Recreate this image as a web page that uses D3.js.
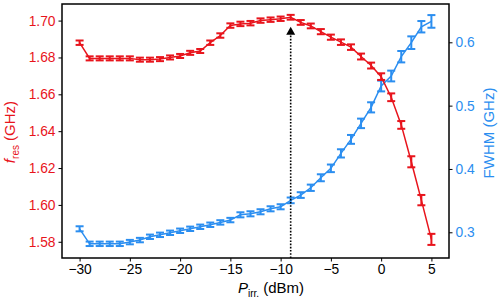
<!DOCTYPE html>
<html>
<head>
<meta charset="utf-8">
<script src="https://cdn.jsdelivr.net/npm/d3@7"></script>
<style>
  html, body { margin: 0; padding: 0; background: #fff; }
  svg { display: block; font-family: "Liberation Sans", Arial, sans-serif; }
</style>
</head>
<body>
<div id="chart"></div>
<script>
const power = d3.range(-30, 6); // -30 .. 5 dBm, 1 dB steps
const fRes = [1.6880, 1.6795, 1.6795, 1.6795, 1.6795, 1.6795, 1.6788, 1.6788, 1.6791, 1.6800, 1.6808,
  1.6825, 1.6835, 1.6880, 1.6919, 1.6973, 1.6982, 1.6986, 1.7000, 1.7005, 1.7010, 1.7018, 1.6990,
  1.6971, 1.6940, 1.6910, 1.6883, 1.6856, 1.6805, 1.6756, 1.6696, 1.6584, 1.6434, 1.6234, 1.6026, 1.5813];
const fResErr = [0.0012, 0.0011, 0.0011, 0.0011, 0.0011, 0.0011, 0.0011, 0.0011, 0.0011, 0.0011, 0.0011,
  0.0011, 0.0011, 0.0012, 0.0012, 0.0012, 0.0012, 0.0012, 0.0012, 0.0012, 0.0012, 0.0013, 0.0013,
  0.0013, 0.0014, 0.0014, 0.0015, 0.0015, 0.0016, 0.0016, 0.0018, 0.0021, 0.0021, 0.0030, 0.0028, 0.0030];
const fwhm = [0.3055, 0.2818, 0.2818, 0.2818, 0.2818, 0.2845, 0.2877, 0.2929, 0.2960, 0.2992, 0.3024,
  0.3055, 0.3087, 0.3119, 0.3156, 0.3193, 0.3276, 0.3292, 0.3324, 0.3371, 0.3403, 0.3504, 0.3588,
  0.3703, 0.3861, 0.4010, 0.4246, 0.4467, 0.4720, 0.4973, 0.5310, 0.5468, 0.5773, 0.5994, 0.6246, 0.6330];
const fwhmErr = [0.0040, 0.0035, 0.0035, 0.0035, 0.0035, 0.0035, 0.0035, 0.0035, 0.0035, 0.0035, 0.0035,
  0.0035, 0.0035, 0.0035, 0.0035, 0.0035, 0.0040, 0.0040, 0.0040, 0.0040, 0.0040, 0.0045, 0.0045,
  0.0050, 0.0055, 0.0060, 0.0065, 0.0070, 0.0075, 0.0080, 0.0085, 0.0085, 0.0090, 0.0100, 0.0090, 0.0100];
const xTicks = [-30, -25, -20, -15, -10, -5, 0, 5];
const fTicks = [1.58, 1.60, 1.62, 1.64, 1.66, 1.68, 1.70];
const wTicks = [0.3, 0.4, 0.5, 0.6];
const arrowX = -9;
const arrowTip = 1.6966;

const red = '#e8141c';
const blue = '#2b8ef0';
const W = 498, H = 302;
const m = { t: 4, r: 49, b: 44, l: 62 };
const innerW = W - m.l - m.r;
const innerH = H - m.t - m.b;

const svg = d3.select('#chart').append('svg').attr('width', W).attr('height', H);
const g = svg.append('g').attr('transform', `translate(${m.l},${m.t})`);

const x = d3.scaleLinear().domain([-31.75, 6.75]).range([0, innerW]);
const yL = d3.scaleLinear().domain([1.5712, 1.709]).range([innerH, 0]);
const yR = d3.scaleLinear().domain([0.2594, 0.6605]).range([innerH, 0]);

function styleAxis(sel, color) {
  sel.select('.domain').remove();
  sel.selectAll('.tick line').attr('stroke', '#000').attr('stroke-width', 1);
  sel.selectAll('.tick text').attr('fill', color).attr('font-size', 13.8)
    .attr('font-family', '"Liberation Sans", Arial, sans-serif');
}

g.append('g').attr('transform', `translate(0,${innerH})`)
  .call(d3.axisBottom(x).tickValues(xTicks).tickSize(3.5).tickPadding(3).tickFormat(d => d < 0 ? '\u2212' + Math.abs(d) : d))
  .call(s => styleAxis(s, '#000'));
g.append('g')
  .call(d3.axisLeft(yL).tickValues(fTicks).tickSize(3.5).tickPadding(3).tickFormat(d3.format('.2f')))
  .call(s => styleAxis(s, red));
g.append('g').attr('transform', `translate(${innerW},0)`)
  .call(d3.axisRight(yR).tickValues(wTicks).tickSize(3.5).tickPadding(3).tickFormat(d3.format('.1f')))
  .call(s => styleAxis(s, blue));

function series(vals, errs, y, color) {
  const pts = power.map((p, i) => ({ p, v: vals[i], e: errs[i] }));
  const s = g.append('g');
  s.append('path').datum(pts)
    .attr('fill', 'none').attr('stroke', color).attr('stroke-width', 1.5)
    .attr('d', d3.line().x(d => x(d.p)).y(d => y(d.v)));
  const eb = s.selectAll('g.eb').data(pts).enter().append('g')
    .attr('stroke', color).attr('stroke-width', 2);
  eb.append('line')
    .attr('x1', d => x(d.p)).attr('x2', d => x(d.p))
    .attr('y1', d => y(d.v - d.e)).attr('y2', d => y(d.v + d.e));
  eb.append('line')
    .attr('x1', d => x(d.p) - 4).attr('x2', d => x(d.p) + 4)
    .attr('y1', d => y(d.v - d.e)).attr('y2', d => y(d.v - d.e));
  eb.append('line')
    .attr('x1', d => x(d.p) - 4).attr('x2', d => x(d.p) + 4)
    .attr('y1', d => y(d.v + d.e)).attr('y2', d => y(d.v + d.e));
}

series(fwhm, fwhmErr, yR, blue);
series(fRes, fResErr, yL, red);

// dotted arrow marking the peak
const ax = x(arrowX);
const tipY = yL(arrowTip);
g.append('line')
  .attr('x1', ax).attr('x2', ax).attr('y1', innerH).attr('y2', tipY + 8)
  .attr('stroke', '#000').attr('stroke-width', 1.6).attr('stroke-dasharray', '1.6,1.6');
g.append('path')
  .attr('d', `M${ax},${tipY} L${ax - 4.5},${tipY + 8} L${ax + 4.5},${tipY + 8} Z`)
  .attr('fill', '#000');

// frame
g.append('rect').attr('width', innerW).attr('height', innerH)
  .attr('fill', 'none').attr('stroke', '#000').attr('stroke-width', 1.5);

// axis labels
const xl = svg.append('text')
  .attr('x', 271).attr('y', 293)
  .attr('text-anchor', 'middle').attr('font-size', 15).attr('fill', '#000');
xl.append('tspan').attr('font-style', 'italic').text('P');
xl.append('tspan').attr('font-size', 10).attr('dy', 3.5).text('irr.');
xl.append('tspan').attr('dy', -3.5).text(' (dBm)');

const yl = svg.append('text')
  .attr('transform', `translate(15,${m.t + 128}) rotate(-90)`)
  .attr('text-anchor', 'middle').attr('font-size', 15).attr('fill', red);
yl.append('tspan').attr('font-style', 'italic').text('f');
yl.append('tspan').attr('font-size', 10).attr('dy', 3.5).text('res');
yl.append('tspan').attr('dy', -3.5).text(' (GHz)');

svg.append('text')
  .attr('transform', `translate(494,${m.t + 129}) rotate(-90)`)
  .attr('text-anchor', 'middle').attr('font-size', 15).attr('fill', blue)
  .text('FWHM (GHz)');
</script>
</body>
</html>
